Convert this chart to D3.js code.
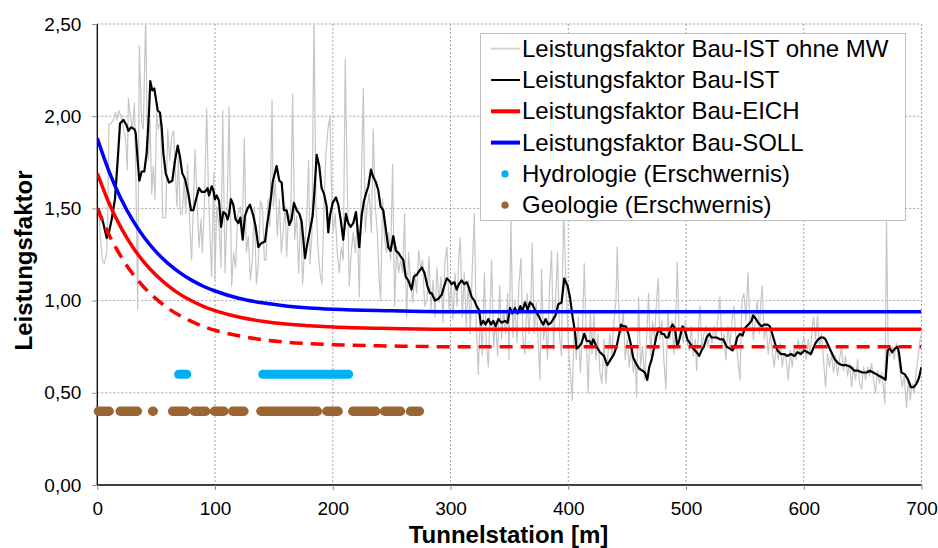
<!DOCTYPE html>
<html>
<head>
<meta charset="utf-8">
<script src="https://cdn.jsdelivr.net/npm/d3@7/dist/d3.min.js"></script>
<style>
  html, body { margin: 0; padding: 0; background: #fff; }
  svg { display: block; font-family: "Liberation Sans", Arial, sans-serif; }
</style>
</head>
<body>
<svg id="chart" width="938" height="548"></svg>
<script>
// Tunnel construction performance factor along the tunnel station

const xTicks = [0, 100, 200, 300, 400, 500, 600, 700];
const yTicks = [0, 0.5, 1.0, 1.5, 2.0, 2.5];

// Leistungsfaktor Bau-IST ohne MW (raw values) [station m, factor]
const istRaw = [
  [0.9,1.51],[2.6,1.35],[4.3,1.22],[6.0,1.20],[8.0,1.26],[8.8,1.44],[9.9,1.96],[11.6,1.96],[13.6,1.98],[15.6,2.02],
  [16.5,1.98],[18.4,2.03],[20.1,2.00],[22.1,1.94],[24.1,1.87],[25.5,1.71],[26.4,2.10],[27.8,2.02],[29.8,1.93],[31.5,2.07],
  [32.6,1.74],[34.3,0.95],[35.7,2.38],[37.7,1.96],[39.1,1.93],[41.1,2.55],[42.2,2.02],[43.3,1.76],[44.8,1.98],[46.2,1.58],
  [47.6,1.73],[49.0,1.55],[50.4,2.02],[51.8,1.93],[53.8,1.98],[55.5,1.45],[58.1,1.45],[59.8,1.93],[61.5,1.76],[63.2,1.89],
  [64.9,1.92],[66.0,1.74],[67.7,1.51],[68.8,1.78],[70.5,1.47],[72.2,1.47],[73.9,1.67],[75.0,1.47],[76.7,1.74],[78.7,1.40],
  [80.1,1.22],[81.8,1.56],[83.0,1.82],[84.7,1.55],[86.4,1.29],[88.1,1.44],[89.2,1.26],[90.9,1.51],[92.9,2.04],[94.3,1.62],
  [95.7,1.35],[97.1,1.13],[98.8,1.69],[99.9,1.11],[101.4,1.51],[103.4,1.40],[105.1,1.18],[106.5,2.03],[108.5,1.15],[110.2,1.47],
  [111.9,2.05],[114.1,1.08],[115.8,1.26],[117.5,1.18],[119.2,1.46],[121.5,1.51],[123.2,1.40],[124.9,1.88],[126.6,1.26],[128.3,1.35],
  [130.0,1.11],[131.7,1.22],[133.4,1.51],[135.1,1.09],[136.8,1.20],[138.5,1.54],[140.2,1.51],[141.9,1.22],
  [143.3,1.22],[145.0,1.55],[146.6,1.40],[148.4,2.09],[149.5,1.51],[151.2,1.65],[152.9,1.35],[154.6,1.55],[156.3,1.26],[158.0,1.38],
  [159.7,1.51],[160.8,1.24],[162.5,1.47],[164.2,1.44],[165.9,2.12],[167.6,1.33],[169.3,1.46],[171.0,1.15],[172.7,1.47],[174.4,1.09],
  [176.1,1.29],[177.8,1.44],[179.5,1.76],[180.6,1.20],[182.3,1.35],[184.0,2.55],[185.7,1.51],[187.4,1.29],[189.1,1.15],[190.8,1.09],
  [192.5,1.51],[194.2,1.80],[195.9,1.93],[197.6,2.00],[199.3,1.51],[200.4,1.37],[202.1,1.47],[203.8,1.26],[205.5,1.15],[207.2,1.29],
  [208.9,1.22],[210.6,2.31],[212.3,1.62],[214.0,1.08],[215.7,1.26],[217.4,1.37],[219.1,1.26],[220.8,1.44],[222.5,1.02],[224.2,1.62],
  [225.9,2.15],[227.6,1.37],[229.3,1.51],[231.0,1.58],[232.7,1.37],[234.4,1.93],[236.1,1.51],[237.8,1.37],[239.5,1.11],[240.6,1.00],
  [242.3,1.55],[244.0,1.33],[245.7,1.26],[247.4,1.37],[249.1,1.22],[250.8,1.74],[252.5,0.97],[254.2,1.29],[255.9,1.15],[257.6,1.22],
  [259.3,1.15],[261.0,1.47],[262.7,0.91],[264.4,1.26],[266.1,1.11],[267.8,0.99],[269.5,1.15],[271.2,1.04],[272.9,1.27],[274.6,1.18],
  [276.3,1.22],[278.0,0.97],
  [280.0,1.00],[281.7,1.24],[283.4,0.95],[285.1,1.11],[286.8,0.91],[288.5,1.18],[290.2,0.99],[291.9,1.13],[293.6,0.88],[295.3,1.22],
  [297.0,1.29],[298.7,0.95],[300.4,1.11],[302.1,0.90],[303.8,1.15],[305.5,0.97],[307.2,1.26],[308.3,1.34],[310.0,0.91],[311.7,1.15],
  [313.4,0.86],[315.1,1.11],[316.8,0.82],[318.5,1.18],[320.2,1.47],[321.9,0.86],[323.6,0.60],[325.3,0.95],[327.0,0.70],[328.7,1.15],
  [330.4,0.77],[332.1,0.64],[333.8,1.00],[334.9,1.22],[336.6,0.75],[338.3,0.89],[340.0,0.70],[341.7,1.08],[343.4,0.79],[345.1,0.95],
  [346.8,0.82],[348.5,1.04],[349.6,0.68],[351.3,1.44],[353.0,0.80],[354.7,1.00],[356.4,0.77],[358.1,1.09],[359.8,1.23],[361.5,0.79],
  [363.2,0.71],[364.9,1.04],[366.6,0.82],[368.3,1.00],[369.4,1.31],[371.1,0.82],[372.8,0.99],[374.5,0.77],[375.9,0.57],[377.3,1.17],
  [379.0,0.79],[380.7,0.89],[382.4,0.68],[384.1,1.08],[385.8,1.27],[387.5,0.73],[389.2,1.00],[390.9,1.26],[392.6,0.80],[394.3,0.70],
  [396.0,1.52],[397.2,1.26],[398.9,0.95],[400.6,0.70],[402.3,0.57],[403.4,0.46],[405.1,0.88],[406.8,0.68],[408.5,0.91],[410.2,0.61],
  [411.9,0.80],[413.6,1.20],[415.3,0.79],[417.0,0.50],[418.7,0.95],
  [420.1,0.71],[421.8,0.93],[423.5,0.68],[425.2,0.82],[426.9,0.61],[428.6,0.55],[430.3,0.79],[432.0,0.55],[433.7,0.71],[435.4,0.82],
  [437.1,0.70],[438.8,0.89],[440.5,1.00],[441.6,1.29],[443.3,0.89],[445.0,0.82],[446.7,0.95],[448.4,0.68],[450.1,0.79],[451.8,0.64],
  [453.5,0.75],[455.2,0.61],[456.9,0.68],[458.0,0.48],[459.7,1.02],[461.4,0.64],[463.1,0.75],[464.8,0.57],[466.5,0.79],[468.2,1.04],
  [469.9,0.70],[471.6,0.89],[473.3,0.79],[475.0,1.00],[476.4,1.12],[477.8,0.79],[479.5,0.89],[481.2,0.68],[482.9,0.52],[484.6,0.95],
  [486.3,0.79],[488.0,0.89],[489.7,0.71],[491.4,0.93],[492.6,1.21],[494.3,0.77],[496.0,0.86],[497.7,0.77],[499.4,0.89],[501.1,0.77],
  [502.8,0.73],[504.5,0.86],[506.2,0.70],[507.9,0.79],[509.0,0.62],[510.7,0.86],[511.8,0.97],[513.5,0.75],[515.2,0.82],[516.9,0.86],
  [518.6,0.75],[520.3,0.84],[522.0,0.77],[523.7,0.86],[525.4,0.79],[527.1,0.91],[528.8,1.02],[530.5,0.75],[532.2,0.82],[533.9,0.68],
  [535.6,0.86],[537.3,0.75],[539.0,0.89],[540.7,0.97],[542.4,0.79],[544.1,0.68],[545.8,0.57],[547.5,1.00],[549.2,1.04],[550.9,0.89],
  [552.6,1.15],[554.3,0.86],[556.0,0.93],[557.1,0.79],[558.8,0.89],[560.5,1.00],[562.2,0.82],
  [563.6,1.00],[564.7,1.08],[566.4,0.79],[568.1,0.86],[569.8,0.71],[571.5,0.82],[573.2,0.73],[574.9,0.64],[576.6,0.75],[578.3,0.68],
  [580.0,0.77],[581.7,0.64],[583.4,0.71],[585.1,0.68],[586.8,0.57],[588.5,0.73],[590.2,0.64],[591.9,0.75],[593.6,0.68],[595.3,0.79],
  [597.0,0.70],[598.7,0.77],[600.4,0.80],[602.1,0.68],[603.8,0.79],[605.5,0.70],[607.2,0.86],[608.3,0.91],[610.0,0.79],[611.7,0.92],
  [613.4,0.75],[615.1,0.82],[616.8,0.68],[618.5,0.53],[620.2,0.71],[621.9,0.64],[623.6,0.71],[625.3,0.61],[627.0,0.70],[628.7,0.59],
  [630.4,0.68],[632.1,0.75],[633.8,0.62],[635.5,0.70],[637.2,0.59],[638.9,0.66],[640.6,0.53],[642.3,0.64],[644.0,0.57],[645.7,0.68],
  [647.4,0.55],[649.1,0.52],[650.8,0.64],[652.5,0.57],[654.2,0.64],[655.9,0.59],[657.6,0.66],[659.3,0.57],[661.0,0.50],[662.7,0.62],
  [664.4,0.55],[666.1,0.61],[667.8,0.52],[668.9,0.44],[670.3,1.43],[671.7,0.73],[673.4,0.70],[675.1,0.75],[676.8,0.68],[678.5,0.77],
  [680.2,0.70],[681.9,0.61],[683.6,0.53],[685.3,0.59],[687.3,0.42],[688.7,0.57],[690.4,0.46],[692.1,0.55],[693.8,0.50],[695.5,0.61],
  [697.2,0.70],[698.9,0.79],[700.0,0.82]
];

// Leistungsfaktor Bau-IST (moving average) [station m, factor]
const istMean = [
  [0.9,1.50],[5.1,1.42],[8.0,1.34],[9.9,1.37],[12.2,1.44],[15.0,1.55],[17.3,1.76],[19.3,1.96],[22.1,1.98],[24.9,1.95],
  [26.4,1.92],[28.6,1.94],[31.5,1.93],[32.6,1.91],[34.3,1.76],[35.7,1.65],[37.7,1.70],[39.9,1.70],[41.9,1.80],[43.9,2.02],
  [45.0,2.19],[46.7,2.14],[48.4,2.15],[49.9,2.09],[51.3,2.03],[53.2,2.02],[54.7,1.94],[56.1,1.80],[58.1,1.69],[60.9,1.64],
  [63.7,1.65],[66.0,1.76],[68.3,1.84],[70.2,1.78],[72.2,1.69],[74.5,1.66],[77.3,1.58],[79.6,1.49],[81.6,1.49],[83.5,1.54],
  [86.4,1.61],[88.6,1.59],[91.5,1.59],[93.7,1.61],[94.9,1.57],[97.1,1.62],[98.5,1.60],[99.9,1.55],[101.4,1.57],[103.4,1.54],
  [105.1,1.40],[107.0,1.48],[109.0,1.47],[110.7,1.44],[111.9,1.47],[113.5,1.55],[115.5,1.52],[117.5,1.44],[119.8,1.42],[121.5,1.45],
  [123.5,1.33],[125.4,1.46],[127.7,1.50],[129.7,1.52],[132.5,1.46],[134.5,1.40],[136.8,1.29],[139.0,1.31],[142.4,1.32],[144.4,1.42],
  [146.6,1.51],[148.9,1.64],[152.3,1.73],[154.6,1.65],[156.6,1.64],[158.5,1.49],[160.8,1.49],[163.1,1.41],[165.0,1.44],[167.0,1.53],
  [169.3,1.49],[171.6,1.47],[173.5,1.43],[175.0,1.33],[176.4,1.23],[178.4,1.31],[180.6,1.38],[182.9,1.46],[184.3,1.58],[186.3,1.79],
  [188.5,1.73],[190.5,1.61],[192.5,1.58],[194.8,1.51],[196.2,1.37],[197.6,1.46],[199.9,1.53],[202.7,1.56],[204.7,1.52],[206.7,1.44],
  [208.9,1.33],[211.2,1.47],[213.2,1.42],[215.2,1.40],[217.4,1.42],[219.7,1.48],[222.5,1.29],[224.5,1.46],[226.5,1.54],[228.2,1.58],
  [230.2,1.62],[232.4,1.71],[234.4,1.67],[236.7,1.64],[238.6,1.60],[240.6,1.51],[242.9,1.49],[245.2,1.38],[247.1,1.29],[249.1,1.27],
  [251.4,1.35],[253.6,1.27],[255.6,1.26],[257.6,1.24],[259.9,1.22],[261.9,1.13],[264.1,1.11],[266.9,1.06],[268.9,1.13],[271.2,1.14],
  [273.4,1.16],[275.7,1.18],[277.9,1.15],[280.3,1.08],[282.5,1.04],[284.0,1.04],[286.8,1.00],[289.6,1.01],[292.4,1.03],[294.7,1.08],
  [296.7,1.12],[298.7,1.11],[300.9,1.09],[303.2,1.10],[305.2,1.06],[307.2,1.09],[309.4,1.11],[311.7,1.09],[313.7,1.10],[315.6,1.07],
  [317.9,1.02],[320.2,1.00],[322.2,0.97],[324.1,0.95],[325.8,0.87],[327.8,0.89],[329.8,0.87],[332.1,0.90],[334.3,0.87],[336.3,0.89],
  [338.3,0.86],[340.6,0.90],[343.4,0.88],[346.2,0.89],[348.5,0.88],[350.5,0.96],[352.4,0.93],[354.7,0.96],[357.0,0.93],[359.2,0.97],
  [360.9,0.94],[363.2,0.99],[365.5,0.95],[367.4,0.99],[369.4,0.98],[371.7,0.95],[374.5,0.92],[376.8,0.89],[378.8,0.87],[380.7,0.90],
  [383.0,0.87],[385.3,0.88],[387.3,0.90],[389.2,0.92],[391.5,0.98],[394.3,0.99],[396.6,1.12],[399.4,1.08],[401.4,1.02],[403.7,0.91],
  [405.7,0.83],[407.1,0.74],[409.1,0.75],[411.3,0.77],[413.6,0.82],[415.8,0.78],[418.1,0.78],[419.8,0.76],[421.2,0.79],[424.1,0.75],
  [426.9,0.72],[430.3,0.70],[433.1,0.65],[435.9,0.68],[438.8,0.71],[441.0,0.75],[443.3,0.82],[444.7,0.87],[446.7,0.86],[449.0,0.86],
  [451.0,0.82],[452.9,0.77],[455.2,0.69],[457.5,0.66],[460.3,0.63],[463.1,0.62],[465.1,0.61],[467.1,0.57],[468.8,0.64],[470.8,0.68],
  [473.0,0.75],[475.0,0.81],[477.0,0.85],[479.3,0.82],[481.2,0.82],[482.9,0.80],[484.9,0.80],[486.9,0.85],[488.6,0.87],[490.6,0.85],
  [492.6,0.75],[494.8,0.80],[497.1,0.86],[499.1,0.84],[501.1,0.79],[503.3,0.77],[506.1,0.74],[509.0,0.72],[511.2,0.70],[513.2,0.73],
  [515.2,0.75],[517.5,0.80],[519.7,0.82],[521.7,0.80],[523.7,0.80],[526.0,0.80],[528.8,0.79],[531.6,0.79],[534.5,0.75],[537.3,0.74],
  [539.5,0.73],[541.5,0.75],[543.5,0.80],[545.8,0.82],[548.0,0.81],[550.0,0.85],[552.9,0.87],[555.7,0.89],[557.1,0.92],[559.4,0.90],
  [561.3,0.88],[564.2,0.86],[566.4,0.87],[569.3,0.87],[571.2,0.86],[573.2,0.82],[575.5,0.77],[577.7,0.73],[580.6,0.71],[583.4,0.71],
  [586.2,0.70],[589.1,0.71],[591.9,0.70],[594.7,0.72],[597.6,0.71],[600.4,0.73],[603.2,0.72],[606.1,0.71],[608.0,0.74],[610.0,0.77],
  [612.3,0.79],[614.5,0.80],[616.5,0.80],[618.5,0.79],[621.3,0.75],[624.2,0.71],[626.4,0.68],[629.3,0.66],[632.7,0.65],[636.3,0.65],
  [640.0,0.64],[642.9,0.62],[646.2,0.62],[649.6,0.61],[653.3,0.61],[656.2,0.62],[659.0,0.61],[661.8,0.60],[664.6,0.59],[667.5,0.58],
  [669.5,0.57],[671.2,0.73],[673.1,0.74],[675.1,0.72],[677.4,0.74],[679.6,0.75],[680.8,0.72],[683.0,0.61],[685.9,0.60],[688.7,0.57],
  [691.0,0.53],[693.2,0.53],[695.8,0.55],[697.8,0.58],[700.0,0.64]
];

// Target curves sampled along the station
const curveStations = [0, 10, 20, 30, 40, 50, 60, 70, 80, 90, 100, 120, 140, 160, 180, 200, 250, 300, 700];
const sollValues    = [1.88, 1.70, 1.554, 1.436, 1.341, 1.264, 1.202, 1.152, 1.111, 1.078, 1.052, 1.013, 0.988, 0.971, 0.960, 0.953, 0.945, 0.940, 0.940];
const eichValues    = [1.69, 1.528, 1.397, 1.291, 1.206, 1.137, 1.081, 1.035, 0.999, 0.969, 0.946, 0.911, 0.888, 0.873, 0.864, 0.857, 0.849, 0.845, 0.845];
const eichLowValues = [1.50, 1.356, 1.240, 1.146, 1.070, 1.009, 0.959, 0.919, 0.887, 0.860, 0.839, 0.809, 0.788, 0.775, 0.767, 0.761, 0.754, 0.750, 0.750];

// Difficulty zones (station ranges, marker centres) and their plotting level
const hydroLevel = 0.60;
const hydroRanges = [[69, 76], [140.5, 213.5]];
const geoLevel = 0.40;
const geoRanges = [[1, 10], [19.5, 34], [47, 47.5], [64, 75], [82.5, 92], [99.5, 107.5], [115, 124.5],
                   [139, 187], [195, 204.5], [217, 236.5], [244, 257.5], [266, 273.5]];

const legendLabels = [
  "Leistungsfaktor Bau-IST ohne MW",
  "Leistungsfaktor Bau-IST",
  "Leistungsfaktor Bau-EICH",
  "Leistungsfaktor Bau-SOLL",
  "Hydrologie (Erschwernis)",
  "Geologie (Erschwernis)"
];

const colors = {
  raw: "#c6c6c6", mean: "#000000", eich: "#ff0000", soll: "#0000ff",
  hydro: "#00b0f0", geo: "#996633"
};

const svg = d3.select("#chart");
const plot = { left: 97.3, right: 921.5, top: 24, bottom: 485 };

const x = d3.scaleLinear().domain([0, 700]).range([plot.left, plot.right]);
const y = d3.scaleLinear().domain([0, 2.5]).range([plot.bottom, plot.top]);

svg.append("defs").append("clipPath").attr("id", "plotClip")
  .append("rect")
  .attr("x", plot.left).attr("y", plot.top)
  .attr("width", plot.right - plot.left).attr("height", plot.bottom - plot.top);

// Gridlines
const grid = svg.append("g");
grid.selectAll("line.h").data(yTicks.filter(d => d > 0)).join("line")
  .attr("x1", plot.left).attr("x2", plot.right)
  .attr("y1", d => y(d)).attr("y2", d => y(d))
  .attr("stroke", "#8c8c8c").attr("stroke-width", 0.8).attr("stroke-dasharray", "2,2");
grid.selectAll("line.v").data(xTicks.filter(d => d > 0)).join("line")
  .attr("x1", d => x(d)).attr("x2", d => x(d))
  .attr("y1", plot.top).attr("y2", plot.bottom)
  .attr("stroke", "#8c8c8c").attr("stroke-width", 0.8).attr("stroke-dasharray", "2,2");

// Axes
const fmt = d => d.toFixed(2).replace(".", ",");
const yAxis = d3.axisLeft(y).tickValues(yTicks).tickFormat(fmt).tickSize(5).tickPadding(11);
const xAxis = d3.axisBottom(x).tickValues(xTicks).tickFormat(d3.format("d")).tickSize(5).tickPadding(12);

const gy = svg.append("g").attr("transform", `translate(${plot.left},0)`).call(yAxis);
const gx = svg.append("g").attr("transform", `translate(0,${plot.bottom})`).call(xAxis);
[gy, gx].forEach(g => {
  g.select(".domain").attr("stroke", "#000").attr("stroke-width", 1.3);
  g.selectAll(".tick line").attr("stroke", "#8c8c8c");
  g.selectAll(".tick text").attr("font-size", 19).attr("fill", "#000")
    .attr("font-family", "'Liberation Sans', Arial, sans-serif");
});
gx.select(".domain").attr("d", `M${plot.left},0H${plot.right}`);
gy.select(".domain").attr("d", `M0,${plot.top}V${plot.bottom}`);

// Data series
const series = svg.append("g").attr("clip-path", "url(#plotClip)");
const line = d3.line().x(d => x(d[0])).y(d => y(d[1]));
const smooth = d3.line().x(d => x(d[0])).y(d => y(d[1])).curve(d3.curveMonotoneX);

series.append("path").datum(istRaw).attr("d", line)
  .attr("fill", "none").attr("stroke", colors.raw).attr("stroke-width", 1.2).attr("stroke-linejoin", "round");
series.append("path").datum(istMean).attr("d", line)
  .attr("fill", "none").attr("stroke", colors.mean).attr("stroke-width", 2.2).attr("stroke-linejoin", "round");

const zip = vals => curveStations.map((s, i) => [s, vals[i]]);
series.append("path").datum(zip(eichLowValues)).attr("d", smooth)
  .attr("fill", "none").attr("stroke", colors.eich).attr("stroke-width", 3.5).attr("stroke-dasharray", "13,8");
series.append("path").datum(zip(eichValues)).attr("d", smooth)
  .attr("fill", "none").attr("stroke", colors.eich).attr("stroke-width", 3.5);
series.append("path").datum(zip(sollValues)).attr("d", smooth)
  .attr("fill", "none").attr("stroke", colors.soll).attr("stroke-width", 3.5);

// Difficulty zones drawn as rows of round markers
const zones = svg.append("g");
zones.selectAll("line.hydro").data(hydroRanges).join("line")
  .attr("x1", d => x(d[0])).attr("x2", d => x(d[1]))
  .attr("y1", y(hydroLevel)).attr("y2", y(hydroLevel))
  .attr("stroke", colors.hydro).attr("stroke-width", 9).attr("stroke-linecap", "round");
zones.selectAll("line.geo").data(geoRanges).join("line")
  .attr("x1", d => x(d[0])).attr("x2", d => x(d[1]))
  .attr("y1", y(geoLevel)).attr("y2", y(geoLevel))
  .attr("stroke", colors.geo).attr("stroke-width", 9.5).attr("stroke-linecap", "round");

// Axis titles
svg.append("text")
  .attr("transform", `translate(31.5,${(plot.top + plot.bottom) / 2 + 6}) rotate(-90)`)
  .attr("text-anchor", "middle").attr("font-size", 24).attr("font-weight", "bold")
  .text("Leistungsfaktor");
svg.append("text")
  .attr("x", 508.5).attr("y", 543)
  .attr("text-anchor", "middle").attr("font-size", 24).attr("font-weight", "bold")
  .text("Tunnelstation [m]");

// Legend
const legend = svg.append("g");
legend.append("rect")
  .attr("x", 480.5).attr("y", 33.5).attr("width", 425).attr("height", 187)
  .attr("fill", "#fff").attr("stroke", "#c0c0c0").attr("stroke-width", 1);

const legendStyles = [
  { type: "line", color: "#d4d4d4", width: 2 },
  { type: "line", color: colors.mean, width: 2 },
  { type: "line", color: colors.eich, width: 4 },
  { type: "line", color: colors.soll, width: 4 },
  { type: "dot", color: colors.hydro },
  { type: "dot", color: colors.geo }
];
const rowBase = i => 56.7 + i * 31.3;
const items = legend.selectAll("g.item").data(legendLabels).join("g");
items.each(function (label, i) {
  const g = d3.select(this);
  const st = legendStyles[i];
  const cy = rowBase(i) - 8;
  if (st.type === "line") {
    g.append("line").attr("x1", 491).attr("x2", 520).attr("y1", cy).attr("y2", cy)
      .attr("stroke", st.color).attr("stroke-width", st.width);
  } else {
    g.append("circle").attr("cx", 505).attr("cy", cy).attr("r", 3.6).attr("fill", st.color);
  }
  g.append("text").attr("x", 522).attr("y", rowBase(i))
    .attr("font-size", 24).attr("fill", "#000").text(label);
});
</script>
</body>
</html>
